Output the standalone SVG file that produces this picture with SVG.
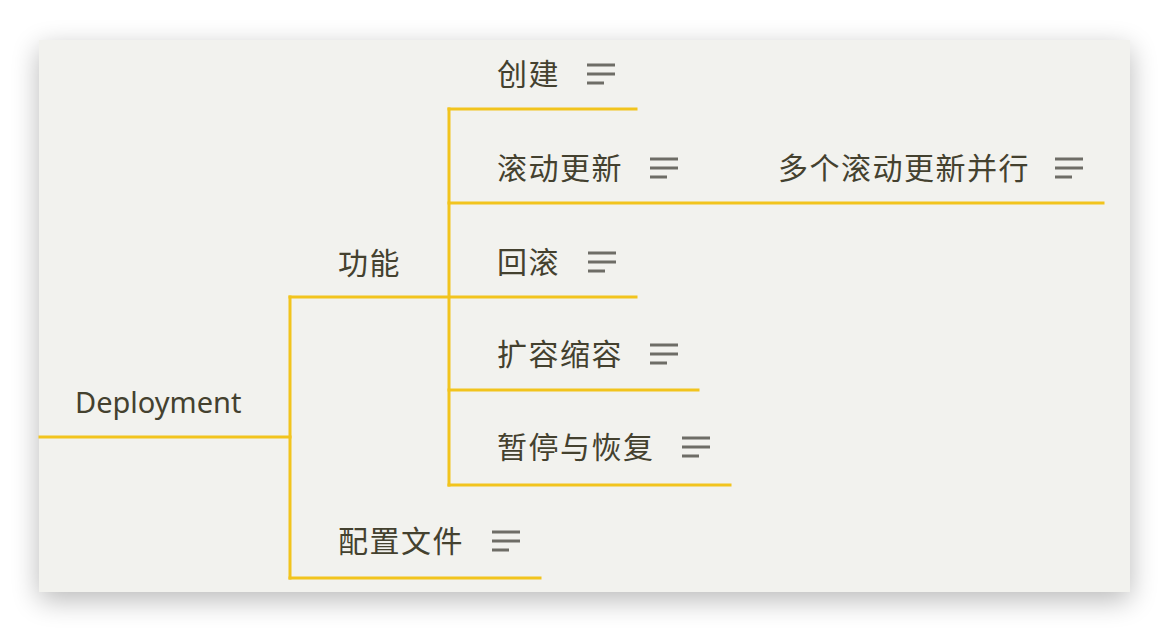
<svg xmlns="http://www.w3.org/2000/svg" width="1170" height="632" viewBox="0 0 1170 632">
  <defs>
    <filter id="shadow" x="-10%" y="-15%" width="120%" height="135%">
      <feGaussianBlur in="SourceAlpha" stdDeviation="14"/>
      <feOffset dx="0" dy="8" result="b"/>
      <feComponentTransfer><feFuncA type="linear" slope="0.28"/></feComponentTransfer>
      <feMerge><feMergeNode/><feMergeNode in="SourceGraphic"/></feMerge>
    </filter>
    <g id="note">
      <line x1="0" y1="-9" x2="28" y2="-9"/>
      <line x1="0" y1="0" x2="28" y2="0"/>
      <line x1="0" y1="9" x2="17" y2="9"/>
    </g>
  </defs>
  <style>
    .lbl { font-family: "Noto Sans", "Noto Sans CJK SC", sans-serif; font-size: 30px; fill: #44412f; letter-spacing: 1.5px; }
    .root { font-family: "Noto Sans", sans-serif; font-size: 29px; fill: #44412f; }
    .conn { stroke: #f2c41d; stroke-width: 3; fill: none; stroke-linecap: square; }
    .icon { stroke: #6e6d66; stroke-width: 3; }
  </style>
  <rect width="1170" height="632" fill="#ffffff"/>
  <rect x="39" y="40" width="1091" height="552" fill="#f2f2ee" filter="url(#shadow)"/>

  <g id="connectors" class="conn">
    <path d="M40 437 H290"/>
    <path d="M290 297 V578"/>
    <path d="M290 297 H636"/>
    <path d="M290 578 H540"/>
    <path d="M449 109 V485"/>
    <path d="M449 109 H636"/>
    <path d="M449 203 H1103"/>
    <path d="M449 390 H698"/>
    <path d="M449 485 H730"/>
  </g>

  <g id="node-deployment">
    <text class="root" x="75" y="413">Deployment</text>
  </g>
  <g id="node-gongneng">
    <text class="lbl" x="338" y="274">功能</text>
  </g>
  <g id="node-peizhi">
    <text class="lbl" x="338" y="552">配置文件</text>
    <use href="#note" class="icon" x="492" y="541"/>
  </g>
  <g id="node-chuangjian">
    <text class="lbl" x="497" y="85">创建</text>
    <use href="#note" class="icon" x="587" y="74"/>
  </g>
  <g id="node-gundong">
    <text class="lbl" x="497" y="179">滚动更新</text>
    <use href="#note" class="icon" x="650" y="168"/>
  </g>
  <g id="node-duoge">
    <text class="lbl" x="778" y="179">多个滚动更新并行</text>
    <use href="#note" class="icon" x="1055" y="168"/>
  </g>
  <g id="node-huigun">
    <text class="lbl" x="497" y="273">回滚</text>
    <use href="#note" class="icon" x="588" y="262"/>
  </g>
  <g id="node-kuorong">
    <text class="lbl" x="497" y="365">扩容缩容</text>
    <use href="#note" class="icon" x="650" y="354"/>
  </g>
  <g id="node-zanting">
    <text class="lbl" x="497" y="458">暂停与恢复</text>
    <use href="#note" class="icon" x="682" y="447"/>
  </g>
</svg>
